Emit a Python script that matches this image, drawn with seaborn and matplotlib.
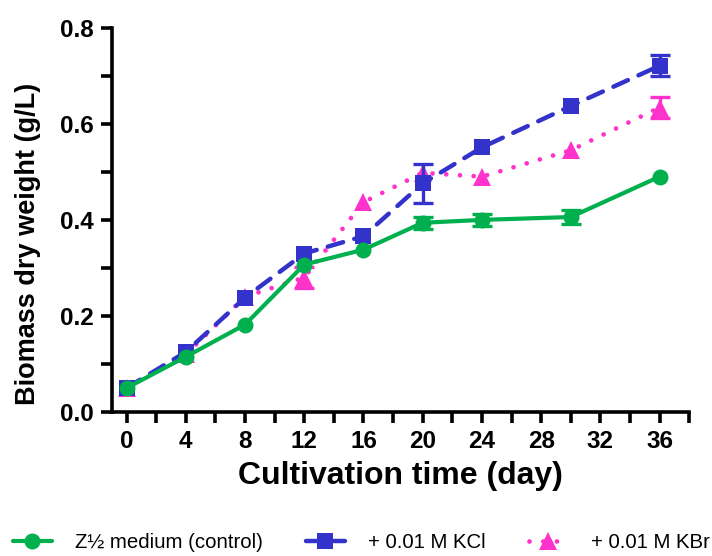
import matplotlib
matplotlib.use("Agg")
import matplotlib.pyplot as plt
import seaborn as sns
import numpy as np
import pandas as pd
from matplotlib.ticker import MultipleLocator, FuncFormatter

# ---- data ----
days = [0, 4, 8, 12, 16, 20, 24, 30, 36]
control = [0.050, 0.115, 0.182, 0.307, 0.338, 0.394, 0.400, 0.406, 0.490]
control_err = [0, 0, 0, 0, 0, 0.012, 0.012, 0.015, 0]
kcl = [0.050, 0.125, 0.238, 0.330, 0.366, 0.476, 0.551, 0.637, 0.721]
kcl_err = [0, 0, 0, 0, 0, 0.040, 0, 0, 0.022]
kbr = [0.050, 0.120, 0.240, 0.280, 0.437, 0.498, 0.490, 0.545, 0.634]
kbr_err = [0, 0, 0, 0.022, 0, 0, 0, 0, 0.022]

labels = ["Z\u00bd medium (control)", "+ 0.01 M KCl", "+ 0.01 M KBr"]
colors = ["#00B04F", "#3333CC", "#FF33CC"]

sns.set_theme(style="ticks")
plt.rcParams["font.family"] = ["Liberation Sans", "DejaVu Sans"]
plt.rcParams["text.color"] = "black"
plt.rcParams["axes.labelcolor"] = "black"
plt.rcParams["xtick.color"] = "black"
plt.rcParams["ytick.color"] = "black"

fig = plt.figure(figsize=(7.12, 5.56), dpi=100)
ax = fig.add_axes([0.157, 0.259, 0.811, 0.691])

series = [
    (kbr, kbr_err, labels[2], colors[2], "^", 13, (0, (0.01, 2.9)), 3.4, 2),
    (kcl, kcl_err, labels[1], colors[1], "s", 12, (0, (3.6, 2.6)), 3.2, 3),
    (control, control_err, labels[0], colors[0], "o", 11.5, "-", 3.0, 4),
]

for vals, errs, lab, col, mk, ms, ls, lw, z in series:
    df = pd.DataFrame({"day": days, "val": vals})
    idx = [i for i, e in enumerate(errs) if e > 0]
    if idx:
        ax.errorbar([days[i] for i in idx], [vals[i] for i in idx],
                    yerr=[errs[i] for i in idx], fmt="none", ecolor=col,
                    elinewidth=2.4, capsize=7, capthick=2.4, zorder=z)
    sns.lineplot(data=df, x="day", y="val", ax=ax, color=col, marker=mk,
                 markersize=ms, markeredgewidth=0, linewidth=lw, linestyle=ls,
                 dash_capstyle="round", zorder=z + 0.5, label=lab, legend=False)

hmap = {l.get_label(): l for l in ax.get_lines()}

ax.set_xlim(-1, 38)
ax.set_ylim(0, 0.8)
ax.xaxis.set_major_locator(MultipleLocator(2))
ax.xaxis.set_major_formatter(FuncFormatter(
    lambda v, p: f"{int(round(v))}" if (int(round(v)) % 4 == 0 and v <= 36.5) else ""))
ax.yaxis.set_major_locator(MultipleLocator(0.1))
ax.yaxis.set_major_formatter(FuncFormatter(
    lambda v, p: f"{v:.1f}" if int(round(v * 10)) % 2 == 0 else ""))

for s in ["top", "right"]:
    ax.spines[s].set_visible(False)
for s in ["left", "bottom"]:
    ax.spines[s].set_linewidth(2.6)
    ax.spines[s].set_color("black")
ax.tick_params(axis="both", direction="out", length=8, width=2.6, color="black",
               labelsize=17.5, pad=5)
for t in ax.get_xticklabels() + ax.get_yticklabels():
    t.set_fontweight("bold")

ax.set_xlabel("Cultivation time (day)", fontsize=23, fontweight="bold", labelpad=6)
ax.set_ylabel("Biomass dry weight (g/L)", fontsize=19.5, fontweight="bold")
ax.yaxis.set_label_coords(-0.122, 0.4375)

leg = fig.legend([hmap[labels[0]], hmap[labels[1]], hmap[labels[2]]], labels,
                 loc="center left", bbox_to_anchor=(13 / 712, 1 - 543 / 556),
                 ncol=3, frameon=False, borderaxespad=0, borderpad=0,
                 prop={"size": 14.7},
                 handlelength=1.9, columnspacing=2.1, handletextpad=1.15)

fig.savefig("out.png", dpi=100)
